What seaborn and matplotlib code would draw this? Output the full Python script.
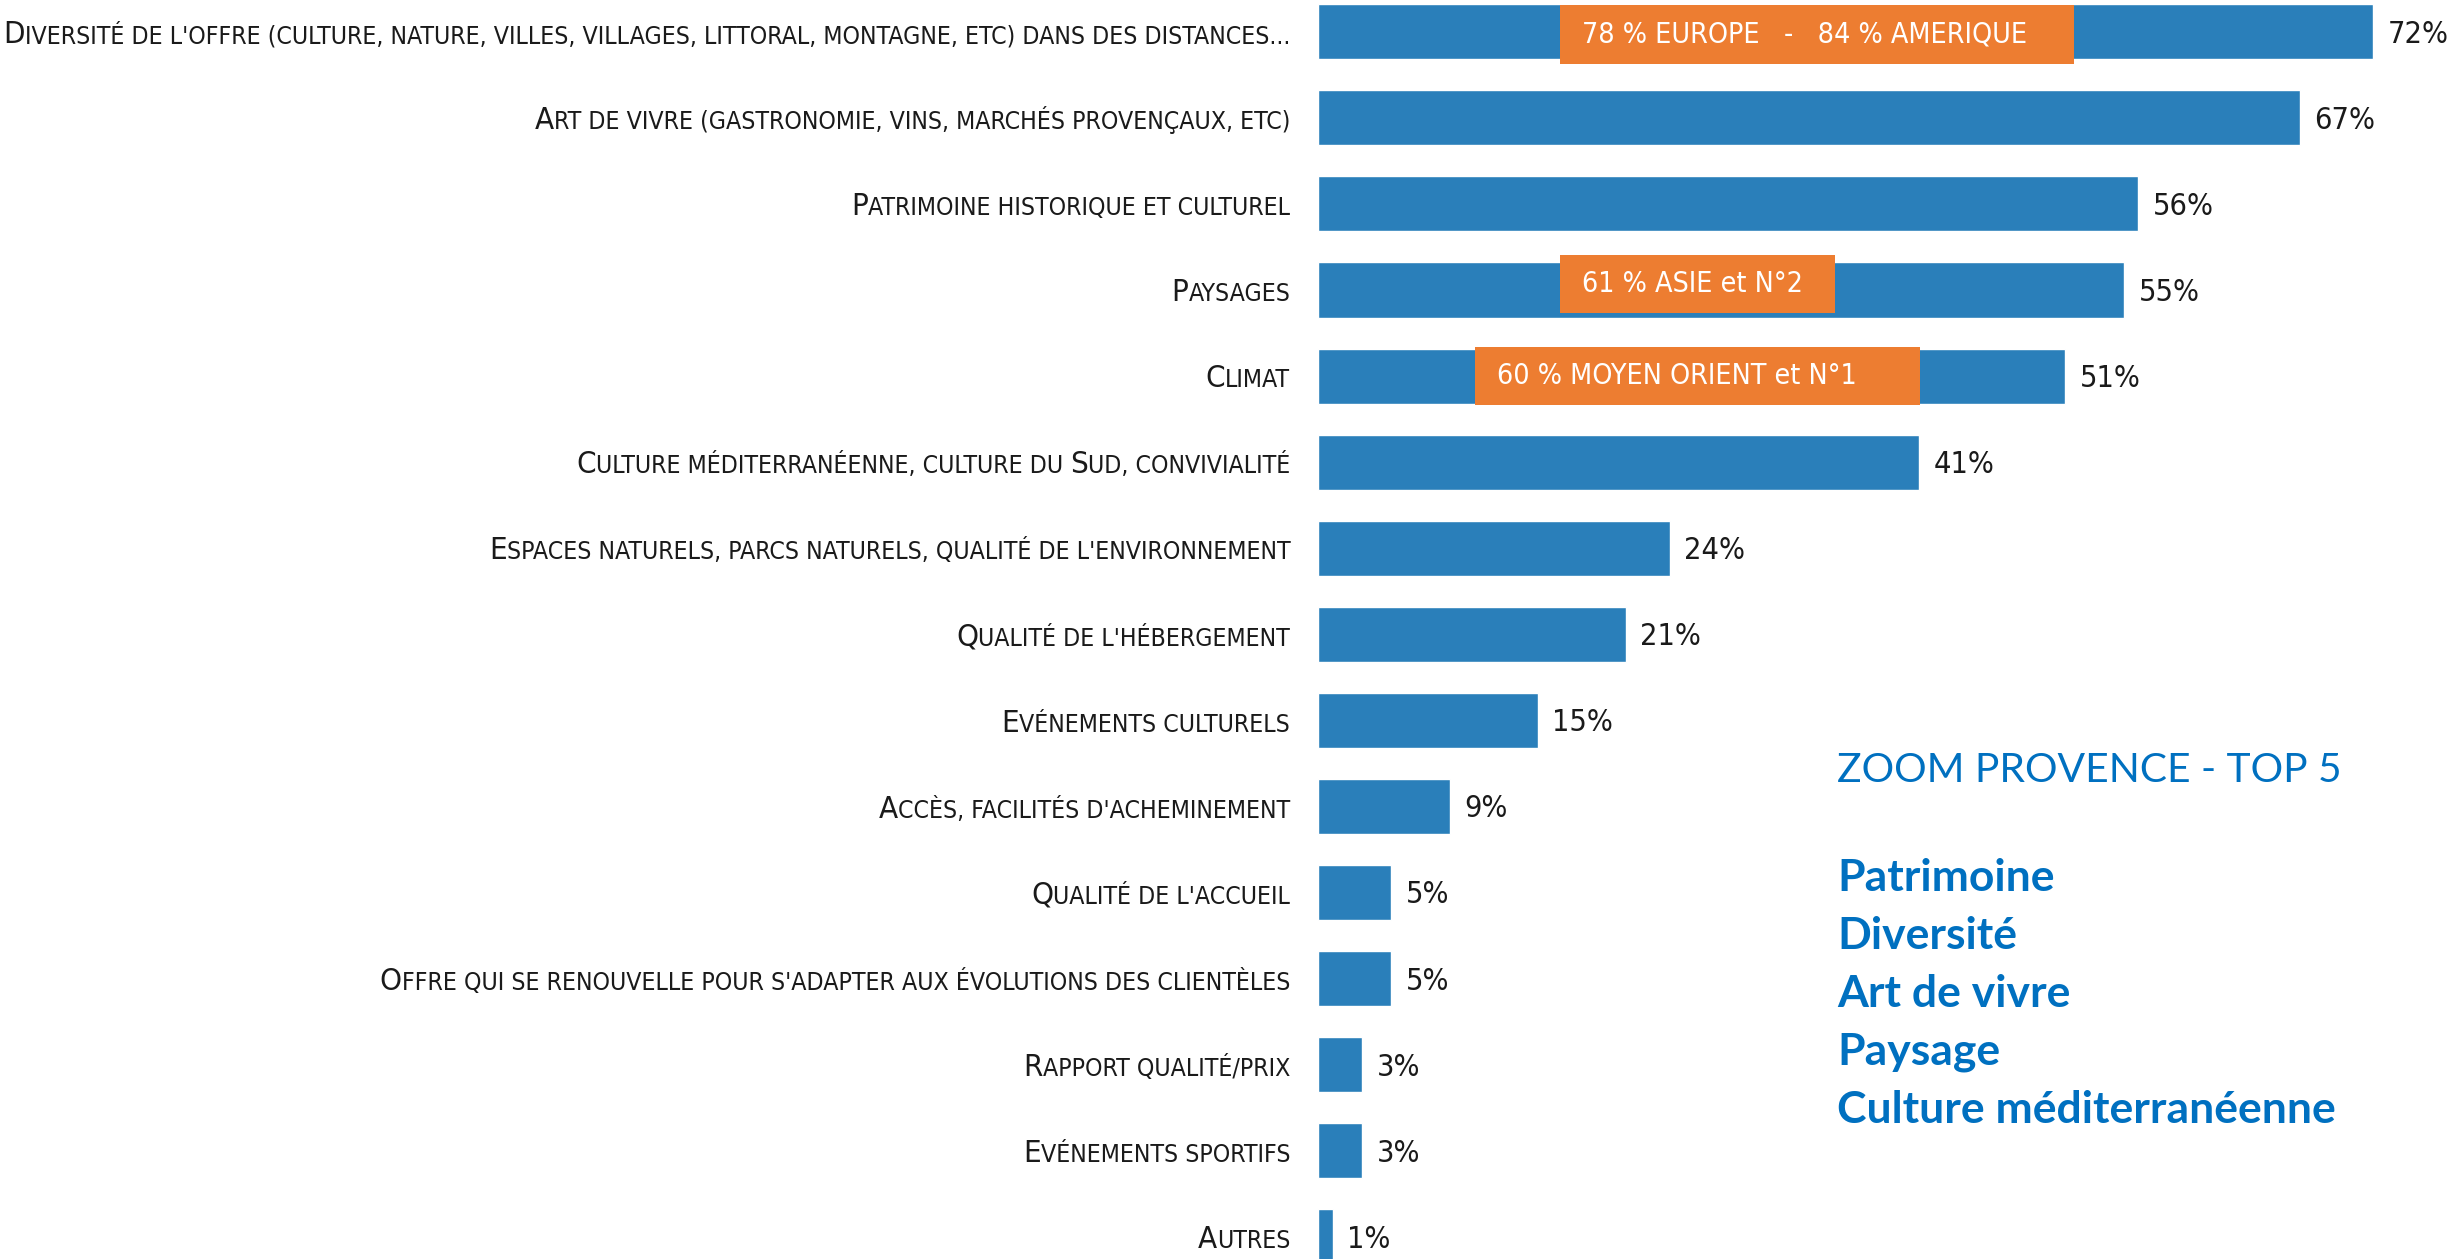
import matplotlib
matplotlib.use('Agg')

import numpy as np
import pandas as pd
import seaborn as sns
import matplotlib.pyplot as plt
from matplotlib.patches import Rectangle
from matplotlib.offsetbox import TextArea, HPacker, AnnotationBbox

# données du graphique
LABELS = [
    "Diversité de l'offre (culture, nature, villes, villages, littoral, montagne, etc) dans des distances...",
    "Art de vivre (gastronomie, vins, marchés provençaux, etc)",
    "Patrimoine historique et culturel",
    "Paysages",
    "Climat",
    "Culture méditerranéenne, culture du Sud, convivialité",
    "Espaces naturels, parcs naturels, qualité de l'environnement",
    "Qualité de l'hébergement",
    "Evénements culturels",
    "Accès, facilités d'acheminement",
    "Qualité de l'accueil",
    "Offre qui se renouvelle pour s'adapter aux évolutions des clientèles",
    "Rapport qualité/prix",
    "Evénements sportifs",
    "Autres",
]
VALUES = [72, 67, 56, 55, 51, 41, 24, 21, 15, 9, 5, 5, 3, 3, 1]

HIGHLIGHT_TEXTS = ["78 % EUROPE   -   84 % AMERIQUE", "61 % ASIE et N°2", "60 % MOYEN ORIENT et N°1"]
HIGHLIGHT_ROWS = [0, 3, 4]

TOP5_TITLE = "ZOOM PROVENCE - TOP 5"
TOP5_ITEMS = ["Patrimoine", "Diversité", "Art de vivre", "Paysage", "Culture méditerranéenne"]

BAR_COLOR = '#2A7FBA'
ORANGE = '#ED7D31'
BLUE_TXT = '#0070C0'
COND = dict(family='DejaVu Sans', stretch='condensed')

sns.set_style("white")
plt.rcParams['font.family'] = ['DejaVu Sans']

W, H = 2452, 1259
fig = plt.figure(figsize=(W / 100, H / 100), dpi=100)
left = 1318 / W
ax = fig.add_axes([left, 0, 1 - left, 1])

df = pd.DataFrame({'label': LABELS, 'value': VALUES})
sns.barplot(data=df, x='value', y='label', orient='h', color=BAR_COLOR,
            width=0.64, saturation=1, ax=ax)

px_per_pct = 14.65
ax.set_xlim(0, (W - 1318) / px_per_pct)
ax.set_ylim(14.26, -0.37)
sns.despine(ax=ax, left=True, bottom=True)
ax.set_xticks([])
ax.set_yticks([])
ax.set_xlabel('')
ax.set_ylabel('')

# étiquettes de valeur
for i, v in enumerate(VALUES):
    ax.text(v + 1.0, i + 0.03, f"{v}%", va='center', ha='left', fontsize=22,
            color='#1a1a1a', **COND)


# étiquettes en petites capitales (majuscule d'origine plus grande)
def small_caps(label, big=22.4, small=17.8):
    runs = []
    for ch in label:
        is_big = ch.isupper() or ch.isdigit()
        if runs and runs[-1][1] == is_big:
            runs[-1][0] += ch
        else:
            runs.append([ch, is_big])
    areas = []
    for txt, is_big in runs:
        areas.append(TextArea(txt.upper(), textprops=dict(
            fontsize=big if is_big else small, color='#1a1a1a', **COND)))
    return HPacker(children=areas, pad=0, sep=0, align='baseline')


for i, lab in enumerate(LABELS):
    box = small_caps(lab)
    ab = AnnotationBbox(box, (0, i), xybox=(-20, -2), xycoords='data',
                        boxcoords='offset points', box_alignment=(1, 0.5),
                        frameon=False, pad=0, annotation_clip=False)
    ax.add_artist(ab)

# encadrés orange
box_x = [(16.5, 51.6), (16.5, 35.3), (10.7, 41.1)]
box_y = [(-0.31, 0.37), (-0.41, 0.27), (-0.34, 0.34)]
for txt, row, (x0, x1), (y0, y1) in zip(HIGHLIGHT_TEXTS, HIGHLIGHT_ROWS, box_x, box_y):
    ax.add_patch(Rectangle((x0, row + y0), x1 - x0, y1 - y0, facecolor=ORANGE,
                           edgecolor='none', zorder=3))
    ax.text(x0 + 1.5, row + (y0 + y1) / 2, txt, color='white', fontsize=20.5,
            va='center', ha='left', zorder=4, **COND)

# bloc de droite
tx = 1837 / W
fig.text(tx, 1 - 782 / H, TOP5_TITLE, color=BLUE_TXT, fontsize=29.3,
         family=['Lato', 'DejaVu Sans'], va='baseline')
for k, item in enumerate(TOP5_ITEMS):
    fig.text(tx, 1 - (891 + 58 * k) / H, item, color=BLUE_TXT, fontsize=32,
             fontweight='bold', family=['Lato', 'DejaVu Sans'], va='baseline')

fig.savefig('out.png', dpi=100)
